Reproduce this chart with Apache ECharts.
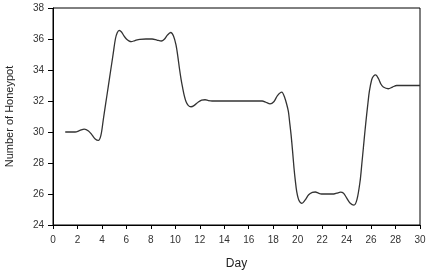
<!DOCTYPE html>
<html>
<head>
<meta charset="utf-8">
<script src="https://cdn.jsdelivr.net/npm/echarts@6/dist/echarts.min.js"></script>
<style>html,body{margin:0;padding:0;background:#fff}#c{width:427px;height:278px}</style>
</head>
<body>
<div id="c"></div>
<script>
// Points (day, number of honeypot)
var days = [1.0, 1.8, 2.2, 2.55, 2.9, 3.2, 3.45, 3.71, 3.92, 4.11, 4.3, 4.52, 4.72, 4.93, 5.1, 5.25, 5.42, 5.6, 5.8, 6.0, 6.2, 6.4, 6.7, 7.1, 7.6, 8.1, 8.5, 8.85, 9.1, 9.35, 9.62, 9.85, 10.05, 10.2, 10.33, 10.47, 10.6, 10.73, 10.87, 11.05, 11.28, 11.55, 11.88, 12.15, 12.43, 12.7, 13.0, 17.1, 17.4, 17.74, 18.05, 18.35, 18.7, 18.95, 19.1, 19.24, 19.35, 19.46, 19.58, 19.7, 19.81, 19.92, 20.1, 20.35, 20.6, 20.9, 21.2, 21.45, 21.7, 21.95, 22.95, 23.2, 23.5, 23.75, 24.0, 24.3, 24.6, 24.85, 25.1, 25.24, 25.37, 25.5, 25.64, 25.75, 25.86, 26.05, 26.2, 26.38, 26.6, 26.8, 27.0, 27.41, 27.75, 28.1, 30];
var values = [30.0, 30.0, 30.1, 30.19, 30.07, 29.8, 29.55, 29.46, 29.8, 30.79, 31.8, 32.94, 34.0, 35.1, 36.0, 36.4, 36.55, 36.45, 36.2, 36.0, 35.88, 35.83, 35.9, 35.98, 36.0, 36.0, 35.93, 35.87, 35.98, 36.25, 36.42, 36.2, 35.63, 34.9, 34.13, 33.4, 32.84, 32.35, 31.97, 31.72, 31.63, 31.72, 31.94, 32.06, 32.08, 32.03, 32.0, 32.0, 31.92, 31.81, 31.95, 32.35, 32.57, 32.2, 31.8, 31.33, 30.6, 29.83, 28.8, 27.68, 26.85, 26.17, 25.6, 25.4, 25.6, 25.95, 26.1, 26.13, 26.05, 26.0, 26.0, 26.05, 26.12, 26.05, 25.75, 25.4, 25.28, 25.65, 26.81, 27.9, 28.97, 30.05, 31.12, 31.9, 32.62, 33.37, 33.6, 33.68, 33.45, 33.1, 32.9, 32.79, 32.9, 33.0, 33.0];
var xTicks = {min: 0, max: 30, interval: 2};
var yTicks = {min: 24, max: 38, interval: 2};
var xName = 'Day';
var yName = 'Number of Honeypot';

var data = days.map(function (d, i) { return [d, values[i]]; });
var chart = echarts.init(document.getElementById('c'), null, {renderer: 'canvas'});
var font = 'Liberation Sans, Arial, sans-serif';
chart.setOption({
  animation: false,
  backgroundColor: '#fff',
  grid: {left: 53, right: 7, top: 8, bottom: 53, show: true, borderColor: '#000', borderWidth: 1,
         containLabel: false, outerBoundsMode: 'none'},
  xAxis: {
    type: 'value', min: xTicks.min, max: xTicks.max, interval: xTicks.interval,
    name: xName, nameLocation: 'middle', nameGap: 33,
    nameTextStyle: {fontFamily: font, fontSize: 12, color: '#222'},
    axisLine: {lineStyle: {color: '#000', width: 1}},
    axisTick: {length: 4, lineStyle: {color: '#000'}},
    axisLabel: {fontFamily: font, fontSize: 10, color: '#333', margin: 10},
    splitLine: {show: false}
  },
  yAxis: {
    type: 'value', min: yTicks.min, max: yTicks.max, interval: yTicks.interval,
    name: yName, nameLocation: 'middle', nameGap: 38,
    nameTextStyle: {fontFamily: font, fontSize: 11, color: '#222'},
    axisLine: {show: true, lineStyle: {color: '#000', width: 1}},
    axisTick: {show: true, length: 5, lineStyle: {color: '#000'}},
    axisLabel: {fontFamily: font, fontSize: 10, color: '#333', margin: 9},
    splitLine: {show: false}
  },
  series: [{
    type: 'line', data: data, showSymbol: false, smooth: 0.3,
    lineStyle: {color: '#333', width: 1.3}
  }]
});
</script>
</body>
</html>
